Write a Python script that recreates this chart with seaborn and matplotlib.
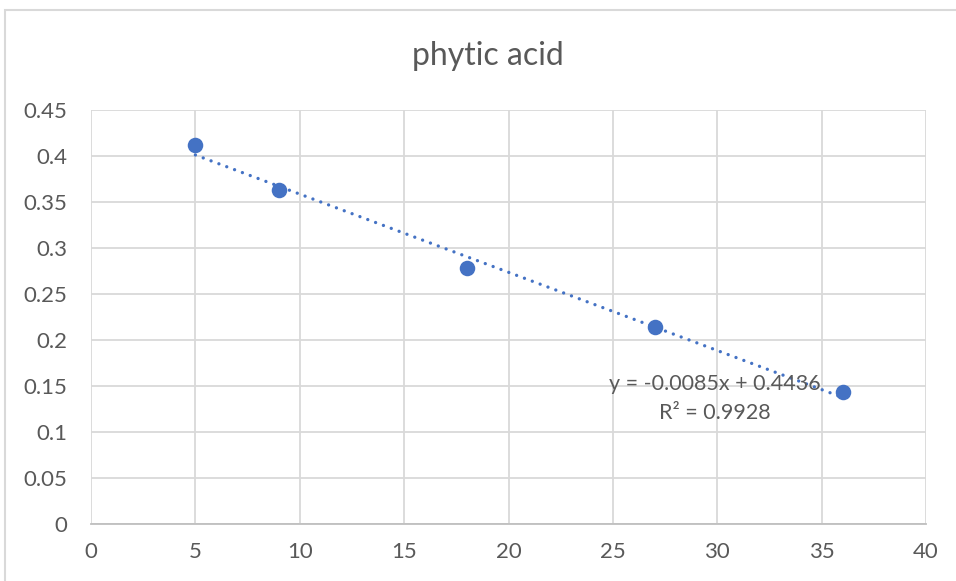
import matplotlib
matplotlib.use("Agg")
import matplotlib.pyplot as plt
from matplotlib.patches import Rectangle
import numpy as np
import pandas as pd
import seaborn as sns

# Measurements: time vs. phytic acid content
time_values = [5, 9, 18, 27, 36]
phytic_values = [0.412, 0.363, 0.278, 0.214, 0.144]

# Linear trendline as reported on the chart
trend_slope = -0.0085
trend_intercept = 0.4436
trend_r2 = 0.9928

x_ticks = [0, 5, 10, 15, 20, 25, 30, 35, 40]
y_ticks = [0, 0.05, 0.1, 0.15, 0.2, 0.25, 0.3, 0.35, 0.4, 0.45]
y_tick_labels = ["0", "0.05", "0.1", "0.15", "0.2", "0.25", "0.3", "0.35", "0.4", "0.45"]

sns.set_theme(style="white")
plt.rcParams["font.family"] = ["Lato", "DejaVu Sans"]

TEXT = "#595959"
GRID = "#d9d9d9"
BLUE = "#4472c4"

fig = plt.figure(figsize=(9.56, 5.81), dpi=100)
ax = fig.add_axes([91 / 956, 1 - 524 / 581, (926 - 91) / 956, (524 - 110) / 581])

df = pd.DataFrame({"time": time_values, "phytic": phytic_values})

# dotted trendline across the data range
tx = np.array([min(time_values), max(time_values)])
ty = trend_slope * tx + trend_intercept
trend_df = pd.DataFrame({"time": tx, "phytic": ty})
sns.lineplot(data=trend_df, x="time", y="phytic", ax=ax, color=BLUE,
             linewidth=2.4, zorder=3)
line = ax.lines[-1]
line.set_linestyle((0, (0.01, 2.5)))
line.set_dash_capstyle("round")

sns.scatterplot(data=df, x="time", y="phytic", ax=ax, color=BLUE, s=125,
                edgecolor=BLUE, linewidth=0, zorder=4)

ax.set_xlim(0, 40)
ax.set_ylim(0, 0.45)
ax.set_xticks(x_ticks)
ax.set_xticklabels([str(t) for t in x_ticks])
ax.set_yticks(y_ticks)
ax.set_yticklabels(y_tick_labels)
ax.set_xlabel("")
ax.set_ylabel("")

ax.grid(True, color=GRID, linewidth=1.3)
ax.set_axisbelow(True)
for side in ["top", "right", "left"]:
    ax.spines[side].set_visible(False)
ax.spines["bottom"].set_color("#bfbfbf")
ax.spines["bottom"].set_linewidth(1.3)
ax.tick_params(axis="x", length=0, labelsize=16, colors=TEXT, pad=13)
ax.tick_params(axis="y", length=0, labelsize=16, colors=TEXT, pad=17)

# chart title, centred on the chart area
fig.text(488 / 956, 1 - 56 / 581, "phytic acid", ha="center", va="center",
         fontsize=23, color=TEXT)

# trendline equation label
ax.text(29.9, 0.152, f"y = {trend_slope}x + {trend_intercept}", ha="center",
        va="center", fontsize=15.5, color=TEXT, zorder=5)
ax.text(29.9, 0.121, f"R² = {trend_r2}", ha="center", va="center",
        fontsize=15.5, color=TEXT, zorder=5)

# chart area border
fig.patches.append(Rectangle((5 / 956, -0.1), 1.2, 1 - 10 / 581 + 0.1,
                             transform=fig.transFigure, fill=False,
                             edgecolor=GRID, linewidth=1.5))

fig.savefig("out.png", dpi=100)
